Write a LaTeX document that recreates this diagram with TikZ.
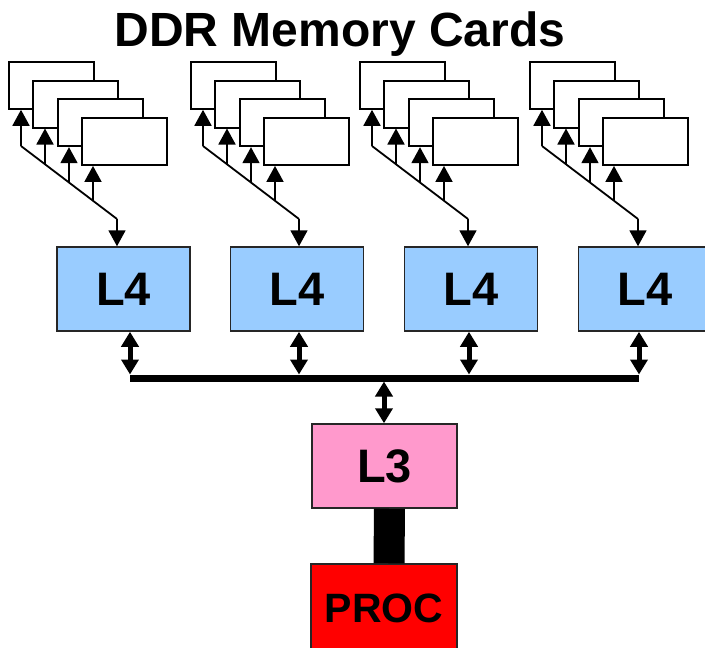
\documentclass[tikz,border=0pt]{standalone}
\usepackage{fontspec}
\setmainfont{Liberation Sans}
\usetikzlibrary{arrows.meta,calc}
\begin{document}
\begin{tikzpicture}[x=1pt,y=-1pt,
  card/.style={draw, line width=1.8pt, fill=white, minimum width=85pt,
    minimum height=47pt, anchor=north west, inner sep=0pt},
  wire/.style={line width=1.8pt},
  feedtip/.style={-{Triangle[length=16pt 0 0,width=17pt 0 0]}},
  cache/.style={draw=black!85, line width=1.5pt, minimum height=84pt,
    inner sep=0pt, font=\fontsize{47}{50}\selectfont\bfseries},
  link/.style={line width=5pt,
    {Triangle[length=15pt 0 0,width=17pt 0 0]}-{Triangle[length=15pt 0 0,width=17pt 0 0]}},
]
\useasboundingbox (0,0) rectangle (705,648);
\clip (0,0) rectangle (705,648);

% title
\node[font=\fontsize{48}{50}\selectfont\bfseries, anchor=base, inner sep=0pt]
  (title) at (340,46) {DDR Memory Cards};

% L4 caches
\node[cache, fill={rgb,255:red,153;green,204;blue,255}, minimum width=133pt] (l41) at (123.5,289) {L4};
\node[cache, fill={rgb,255:red,153;green,204;blue,255}, minimum width=133pt] (l42) at (297,289) {L4};
\node[cache, fill={rgb,255:red,153;green,204;blue,255}, minimum width=133pt] (l43) at (471,289) {L4};
\node[cache, fill={rgb,255:red,153;green,204;blue,255}, minimum width=133pt] (l44) at (645,289) {L4};

% L3 cache and processor
\node[cache, fill={rgb,255:red,255;green,153;blue,204}, minimum width=145pt] (l3) at (384.5,466) {L3};
\node[cache, fill=red, minimum width=146pt, minimum height=88pt,
  font=\fontsize{41}{44}\selectfont\bfseries] (proc) at (384,608) {PROC};

% memory card stacks with their fan-out wiring
\foreach \g/\x in {1/8,2/190,3/359,4/529}{
  \foreach \i in {1,...,4}{
    \node[card] (c\g\i) at ({\x+24.4*(\i-1)},{61+18.7*(\i-1)}) {};
  }
  \coordinate (s\g) at (\x+13,146);
  \coordinate (e\g) at (\x+109,219);
  \draw[wire, line join=round] (s\g) -- (e\g);
  \foreach \i in {1,...,4}{
    \coordinate (b\g\i) at ($(s\g)!{(\i-1)/4}!(e\g)$);
    \draw[wire,feedtip] (b\g\i) -- (b\g\i |- c\g\i.south);
  }
  \draw[wire,feedtip] (e\g) -- (e\g |- l4\g.north);
}

% shared bus
\coordinate (j1) at (130,378);
\coordinate (j2) at (299,378);
\coordinate (j3) at (469,378);
\coordinate (j4) at (639,378);
\coordinate (j0) at (384,378);
\draw[line width=7pt] (j1) -- (j4);
\foreach \k in {1,...,4}{
  \draw[link, shorten >=3.5pt] (j\k |- l4\k.south) -- (j\k);
}
\draw[link, shorten <=3.5pt] (j0) -- (j0 |- l3.north);

% wide processor link
\draw[line width=31pt] ([xshift=5pt]l3.south) -- ([xshift=5pt]proc.north);
\end{tikzpicture}
\end{document}
